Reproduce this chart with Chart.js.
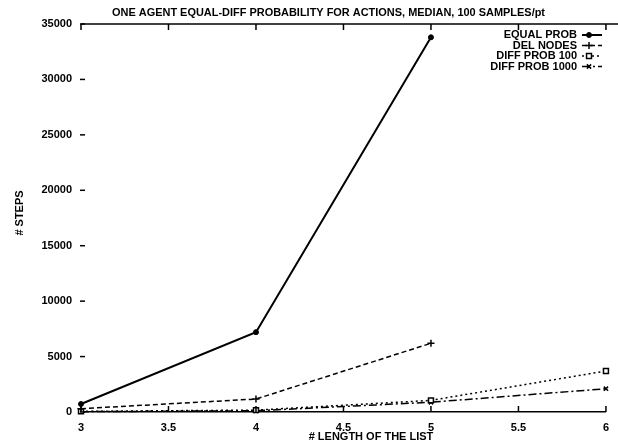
<!DOCTYPE html>
<html>
<head>
<meta charset="utf-8">
<script src="https://cdn.jsdelivr.net/npm/chart.js@4/dist/chart.umd.min.js"></script>
<style>
  html, body { margin: 0; padding: 0; background: #fff; }
  #wrap { width: 618px; height: 446px; }
</style>
</head>
<body>
<div id="wrap"><canvas id="chart" width="618" height="446"></canvas></div>
<script>
// valores
const lengths = [3, 4, 5, 6];
const equalProb = [720, 7200, 33800, null];
const delNodes = [300, 1170, 6200, null];
const diffProb100 = [60, 170, 1050, 3700];
const diffProb1000 = [30, 110, 880, 2100];
const xTicks = [3, 3.5, 4, 4.5, 5, 5.5, 6];
const yTicks = [0, 5000, 10000, 15000, 20000, 25000, 30000, 35000];

const titleText = 'ONE AGENT EQUAL-DIFF PROBABILITY FOR ACTIONS, MEDIAN, 100 SAMPLES/pt';
const FONT = '"Liberation Sans", Arial, sans-serif';

function serie(label, values, style) {
    return Object.assign({
        label: label,
        data: lengths.map((x, i) => ({ x: x, y: values[i] })),
        borderColor: '#000',
        backgroundColor: '#000',
        pointBorderColor: '#000',
        fill: false,
        tension: 0,
        spanGaps: false,
        clip: false
    }, style);
}

// moldura, marcas internas, título, legenda e rótulos dos eixos
const framePlugin = {
    id: 'frame',
    afterDraw(chart) {
        const ctx = chart.ctx;
        const area = chart.chartArea;
        const xs = chart.scales.x;
        const ys = chart.scales.y;
        ctx.save();
        ctx.strokeStyle = '#000';
        ctx.lineWidth = 1.5;
        ctx.setLineDash([]);

        // linha de cima
        ctx.beginPath();
        ctx.moveTo(area.left, area.top);
        ctx.lineTo(618, area.top);
        ctx.stroke();

        // marcas do eixo x (em cima e em baixo)
        xTicks.forEach(v => {
            const px = xs.getPixelForValue(v);
            ctx.beginPath();
            ctx.moveTo(px, area.top);
            ctx.lineTo(px, area.top + 6);
            ctx.moveTo(px, area.bottom);
            ctx.lineTo(px, area.bottom - 6);
            ctx.stroke();
        });

        // marcas do eixo y
        yTicks.forEach(v => {
            const py = ys.getPixelForValue(v);
            ctx.beginPath();
            ctx.moveTo(area.left - 1, py);
            ctx.lineTo(area.left + 4, py);
            ctx.stroke();
        });

        ctx.fillStyle = '#000';
        // título
        ctx.font = 'bold 11px ' + FONT;
        ctx.textAlign = 'left';
        ctx.textBaseline = 'middle';
        ctx.fillText(titleText, 112, 13, 433);

        // rótulos dos eixos
        ctx.textAlign = 'center';
        ctx.fillText('# LENGTH OF THE LIST', 371, 437);
        ctx.save();
        ctx.translate(20, 213);
        ctx.rotate(-Math.PI / 2);
        ctx.fillText('# STEPS', 0, 0);
        ctx.restore();

        // legenda
        chart.data.datasets.forEach((ds, i) => {
            const y = 35 + i * 10.5;
            ctx.textAlign = 'right';
            ctx.fillStyle = '#000';
            ctx.fillText(ds.label, 577, y);
            ctx.lineWidth = ds.borderWidth;
            ctx.setLineDash(ds.borderDash || []);
            ctx.beginPath();
            ctx.moveTo(582, y);
            ctx.lineTo(602, y);
            ctx.stroke();
            ctx.setLineDash([]);
            ctx.fillStyle = ds.pointBackgroundColor || '#000';
            ctx.lineWidth = ds.pointBorderWidth || 1;
            Chart.helpers.drawPoint(ctx, {
                pointStyle: ds.pointStyle,
                radius: ds.pointRadius,
                borderWidth: ds.pointBorderWidth || 1,
                rotation: 0
            }, 589, y);
        });
        ctx.restore();
    }
};

const ctx = document.getElementById('chart').getContext('2d');
const chart = new Chart(ctx, {
    type: 'line',
    data: {
        datasets: [
            serie('EQUAL PROB', equalProb, {
                borderWidth: 2, pointStyle: 'circle', pointRadius: 2.5,
                pointBackgroundColor: '#000', pointBorderWidth: 1
            }),
            serie('DEL NODES', delNodes, {
                borderWidth: 1.5, borderDash: [5, 3], pointStyle: 'cross', pointRadius: 3.5,
                pointBackgroundColor: '#000', pointBorderWidth: 1.5
            }),
            serie('DIFF PROB 100', diffProb100, {
                borderWidth: 1.5, borderDash: [2, 3], pointStyle: 'rect', pointRadius: 3.5,
                pointBackgroundColor: '#fff', pointBorderWidth: 1.5
            }),
            serie('DIFF PROB 1000', diffProb1000, {
                borderWidth: 1.5, borderDash: [8, 3, 2, 3], pointStyle: 'crossRot', pointRadius: 3,
                pointBackgroundColor: '#000', pointBorderWidth: 1.5
            })
        ]
    },
    options: {
        responsive: false,
        animation: false,
        layout: { padding: { top: 24, right: 6, left: 0, bottom: 0 } },
        plugins: {
            legend: { display: false },
            title: { display: false },
            tooltip: { enabled: false }
        },
        scales: {
            x: {
                type: 'linear',
                min: 3,
                max: 6,
                afterFit: (scale) => { scale.height = 34; },
                afterBuildTicks: (scale) => { scale.ticks = xTicks.map(v => ({ value: v })); },
                grid: { display: false, drawTicks: false },
                border: { display: true, color: '#000', width: 1.5 },
                ticks: {
                    padding: 9,
                    color: '#000',
                    font: { family: FONT, size: 11, weight: 'bold' },
                    callback: v => String(v)
                }
            },
            y: {
                min: 0,
                max: 35000,
                afterFit: (scale) => { scale.width = 81; },
                afterBuildTicks: (scale) => { scale.ticks = yTicks.map(v => ({ value: v })); },
                grid: { display: false, drawTicks: false },
                border: { display: false },
                ticks: {
                    padding: 9,
                    color: '#000',
                    font: { family: FONT, size: 11, weight: 'bold' },
                    callback: v => String(v)
                }
            }
        }
    },
    plugins: [framePlugin]
});
</script>
</body>
</html>
